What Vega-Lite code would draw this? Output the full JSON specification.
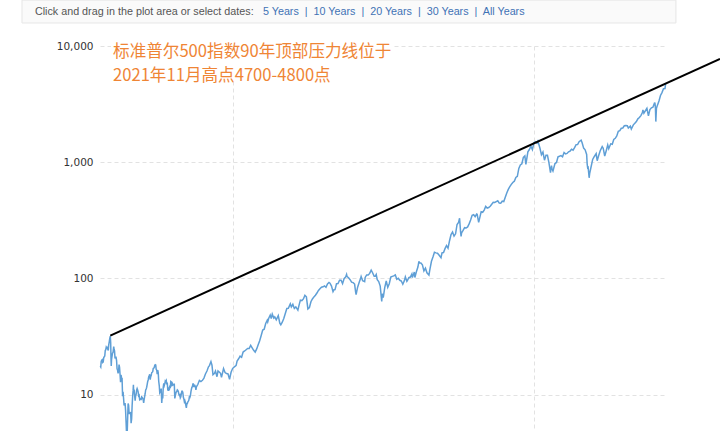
{
  "$schema": "https://vega.github.io/schema/vega-lite/v6.json",
  "autosize": {"type": "none"},
  "padding": {"left": 100, "top": 46, "right": 54, "bottom": 0},
  "width": 566,
  "height": 395,
  "background": "white",
  "config": {"view": {"stroke": null}},
  "datasets": {
    "spx": [
      {"d":"1928-01-15","v":17.6},{"d":"1928-02-15","v":17.3},{"d":"1928-03-15","v":19.3},{"d":"1928-04-15","v":19.8},{"d":"1928-05-15","v":20.0},{"d":"1928-06-15","v":19.0},{"d":"1928-07-15","v":19.2},{"d":"1928-08-15","v":20.9},{"d":"1928-09-15","v":21.2},{"d":"1928-10-15","v":21.5},{"d":"1928-11-15","v":24.0},{"d":"1928-12-15","v":24.4},
      {"d":"1929-01-15","v":25.7},{"d":"1929-02-15","v":25.3},{"d":"1929-03-15","v":25.0},{"d":"1929-04-15","v":25.5},{"d":"1929-05-15","v":24.0},{"d":"1929-06-15","v":27.0},{"d":"1929-07-15","v":28.5},{"d":"1929-08-15","v":30.5},{"d":"1929-09-16","v":31.9},{"d":"1929-10-10","v":28.0},{"d":"1929-10-29","v":20.4},{"d":"1929-11-13","v":17.7},{"d":"1929-11-30","v":20.0},{"d":"1929-12-31","v":21.5},
      {"d":"1930-01-31","v":22.8},{"d":"1930-02-28","v":23.1},{"d":"1930-03-31","v":25.1},{"d":"1930-04-10","v":25.9},{"d":"1930-04-30","v":25.0},{"d":"1930-05-31","v":23.9},{"d":"1930-06-30","v":20.5},{"d":"1930-07-31","v":21.0},{"d":"1930-08-31","v":21.0},{"d":"1930-09-30","v":19.8},{"d":"1930-10-31","v":16.7},{"d":"1930-11-30","v":16.3},{"d":"1930-12-31","v":15.3},
      {"d":"1931-01-31","v":15.9},{"d":"1931-02-28","v":18.2},{"d":"1931-03-31","v":17.2},{"d":"1931-04-30","v":15.0},{"d":"1931-05-31","v":12.8},{"d":"1931-06-30","v":14.8},{"d":"1931-07-31","v":13.9},{"d":"1931-08-31","v":13.8},{"d":"1931-09-30","v":9.7},{"d":"1931-10-31","v":10.6},{"d":"1931-11-30","v":9.3},{"d":"1931-12-31","v":8.1},
      {"d":"1932-01-31","v":8.3},{"d":"1932-02-28","v":8.5},{"d":"1932-03-31","v":7.3},{"d":"1932-04-30","v":5.8},{"d":"1932-05-31","v":4.5},{"d":"1932-06-30","v":4.4},{"d":"1932-07-31","v":6.1},{"d":"1932-08-31","v":8.4},{"d":"1932-09-30","v":8.1},{"d":"1932-10-31","v":6.9},{"d":"1932-11-30","v":6.9},{"d":"1932-12-31","v":6.9},
      {"d":"1933-01-31","v":7.1},{"d":"1933-02-28","v":5.7},{"d":"1933-03-31","v":6.2},{"d":"1933-04-30","v":8.0},{"d":"1933-05-31","v":9.6},{"d":"1933-06-30","v":10.9},{"d":"1933-07-18","v":12.2},{"d":"1933-07-31","v":10.8},{"d":"1933-08-31","v":11.1},{"d":"1933-09-30","v":9.8},{"d":"1933-10-31","v":8.9},{"d":"1933-11-30","v":9.8},{"d":"1933-12-31","v":10.1},
      {"d":"1934-01-31","v":11.0},{"d":"1934-02-28","v":11.3},{"d":"1934-03-31","v":11.0},{"d":"1934-04-30","v":10.6},{"d":"1934-05-31","v":9.8},{"d":"1934-06-30","v":9.9},{"d":"1934-07-31","v":9.1},{"d":"1934-08-31","v":9.2},{"d":"1934-09-30","v":9.1},{"d":"1934-10-31","v":9.1},{"d":"1934-11-30","v":9.6},{"d":"1934-12-31","v":9.5},
      {"d":"1935-01-31","v":9.3},{"d":"1935-02-28","v":9.1},{"d":"1935-03-31","v":8.5},{"d":"1935-04-30","v":9.1},{"d":"1935-05-31","v":9.7},{"d":"1935-06-30","v":10.2},{"d":"1935-07-31","v":11.0},{"d":"1935-08-31","v":11.2},{"d":"1935-09-30","v":11.6},{"d":"1935-10-31","v":12.3},{"d":"1935-11-30","v":13.0},{"d":"1935-12-31","v":13.4},
      {"d":"1936-01-31","v":14.3},{"d":"1936-02-28","v":14.5},{"d":"1936-03-31","v":15.0},{"d":"1936-04-30","v":13.5},{"d":"1936-05-31","v":14.3},{"d":"1936-06-30","v":14.6},{"d":"1936-07-31","v":15.5},{"d":"1936-08-31","v":15.6},{"d":"1936-09-30","v":15.8},{"d":"1936-10-31","v":16.8},{"d":"1936-11-30","v":16.9},{"d":"1936-12-31","v":17.2},
      {"d":"1937-01-31","v":17.9},{"d":"1937-02-28","v":18.1},{"d":"1937-03-31","v":18.0},{"d":"1937-04-30","v":16.5},{"d":"1937-05-31","v":16.3},{"d":"1937-06-30","v":15.0},{"d":"1937-07-31","v":16.3},{"d":"1937-08-31","v":15.4},{"d":"1937-09-30","v":13.0},{"d":"1937-10-31","v":12.0},{"d":"1937-11-30","v":10.4},{"d":"1937-12-31","v":10.6},
      {"d":"1938-01-31","v":10.9},{"d":"1938-02-28","v":11.3},{"d":"1938-03-31","v":8.5},{"d":"1938-04-30","v":9.7},{"d":"1938-05-31","v":9.3},{"d":"1938-06-30","v":11.6},{"d":"1938-07-31","v":12.5},{"d":"1938-08-31","v":12.0},{"d":"1938-09-30","v":12.4},{"d":"1938-10-31","v":13.1},{"d":"1938-11-30","v":12.9},{"d":"1938-12-31","v":13.2},
      {"d":"1939-01-31","v":12.3},{"d":"1939-02-28","v":12.7},{"d":"1939-03-31","v":11.1},{"d":"1939-04-30","v":10.8},{"d":"1939-05-31","v":11.6},{"d":"1939-06-30","v":10.9},{"d":"1939-07-31","v":12.0},{"d":"1939-08-31","v":11.4},{"d":"1939-09-30","v":13.0},{"d":"1939-10-31","v":12.9},{"d":"1939-11-30","v":12.2},{"d":"1939-12-31","v":12.5},
      {"d":"1940-01-31","v":12.1},{"d":"1940-02-28","v":12.2},{"d":"1940-03-31","v":12.3},{"d":"1940-04-30","v":12.3},{"d":"1940-05-31","v":9.3},{"d":"1940-06-30","v":9.8},{"d":"1940-07-31","v":10.3},{"d":"1940-08-31","v":10.6},{"d":"1940-09-30","v":10.7},{"d":"1940-10-31","v":11.0},{"d":"1940-11-30","v":10.9},{"d":"1940-12-31","v":10.6},
      {"d":"1941-01-31","v":10.1},{"d":"1941-02-28","v":9.9},{"d":"1941-03-31","v":10.0},{"d":"1941-04-30","v":9.4},{"d":"1941-05-31","v":9.6},{"d":"1941-06-30","v":10.2},{"d":"1941-07-31","v":10.7},{"d":"1941-08-31","v":10.7},{"d":"1941-09-30","v":10.4},{"d":"1941-10-31","v":9.5},{"d":"1941-11-30","v":9.2},{"d":"1941-12-31","v":8.7},
      {"d":"1942-01-31","v":8.9},{"d":"1942-02-28","v":8.6},{"d":"1942-03-31","v":8.1},{"d":"1942-04-30","v":7.7},{"d":"1942-05-31","v":8.4},{"d":"1942-06-30","v":8.4},{"d":"1942-07-31","v":8.7},{"d":"1942-08-31","v":8.8},{"d":"1942-09-30","v":9.0},{"d":"1942-10-31","v":9.6},{"d":"1942-11-30","v":9.5},{"d":"1942-12-31","v":9.8},
      {"d":"1943-01-31","v":10.6},{"d":"1943-02-28","v":11.1},{"d":"1943-03-31","v":11.6},{"d":"1943-04-30","v":11.7},{"d":"1943-05-31","v":12.4},{"d":"1943-06-30","v":12.4},{"d":"1943-07-31","v":11.8},{"d":"1943-08-31","v":11.8},{"d":"1943-09-30","v":12.0},{"d":"1943-10-31","v":11.8},{"d":"1943-11-30","v":11.0},{"d":"1943-12-31","v":11.7},
      {"d":"1944-03-31","v":12.3},{"d":"1944-06-30","v":13.3},{"d":"1944-09-30","v":13.0},{"d":"1944-12-31","v":13.3},
      {"d":"1945-03-31","v":13.9},{"d":"1945-06-30","v":15.1},{"d":"1945-09-30","v":16.0},{"d":"1945-12-31","v":17.4},
      {"d":"1946-02-28","v":17.8},{"d":"1946-05-31","v":19.3},{"d":"1946-07-31","v":18.0},{"d":"1946-09-30","v":14.9},{"d":"1946-12-31","v":15.3},
      {"d":"1947-02-28","v":16.0},{"d":"1947-05-31","v":14.3},{"d":"1947-07-31","v":16.0},{"d":"1947-10-31","v":15.6},{"d":"1947-12-31","v":15.3},
      {"d":"1948-02-28","v":14.1},{"d":"1948-06-30","v":16.8},{"d":"1948-09-30","v":15.5},{"d":"1948-12-31","v":15.2},
      {"d":"1949-03-31","v":15.1},{"d":"1949-06-30","v":13.6},{"d":"1949-09-30","v":15.6},{"d":"1949-12-31","v":16.8},
      {"d":"1950-03-31","v":17.3},{"d":"1950-06-30","v":17.7},{"d":"1950-07-31","v":17.8},{"d":"1950-09-30","v":19.5},{"d":"1950-12-31","v":20.4},
      {"d":"1951-03-31","v":21.5},{"d":"1951-06-30","v":21.0},{"d":"1951-09-30","v":23.3},{"d":"1951-12-31","v":23.8},
      {"d":"1952-03-31","v":24.4},{"d":"1952-06-30","v":25.0},{"d":"1952-09-30","v":25.0},{"d":"1952-12-31","v":26.6},
      {"d":"1953-03-31","v":25.3},{"d":"1953-06-30","v":24.1},{"d":"1953-09-30","v":23.3},{"d":"1953-12-31","v":24.8},
      {"d":"1954-03-31","v":26.9},{"d":"1954-06-30","v":29.2},{"d":"1954-09-30","v":32.3},{"d":"1954-12-31","v":36.0},
      {"d":"1955-03-31","v":36.6},{"d":"1955-06-30","v":41.0},{"d":"1955-09-30","v":43.7},{"d":"1955-10-31","v":42.3},{"d":"1955-12-31","v":45.5},
      {"d":"1956-03-31","v":48.5},{"d":"1956-05-31","v":45.2},{"d":"1956-07-31","v":49.4},{"d":"1956-10-31","v":45.6},{"d":"1956-12-31","v":46.7},
      {"d":"1957-03-31","v":44.1},{"d":"1957-07-31","v":47.9},{"d":"1957-10-31","v":41.2},{"d":"1957-12-31","v":40.0},
      {"d":"1958-03-31","v":42.1},{"d":"1958-06-30","v":45.2},{"d":"1958-09-30","v":50.0},{"d":"1958-12-31","v":55.2},
      {"d":"1959-03-31","v":55.4},{"d":"1959-07-31","v":60.5},{"d":"1959-09-30","v":56.9},{"d":"1959-12-31","v":59.9},
      {"d":"1960-03-31","v":55.3},{"d":"1960-06-30","v":56.9},{"d":"1960-10-31","v":53.4},{"d":"1960-12-31","v":58.1},
      {"d":"1961-03-31","v":65.1},{"d":"1961-06-30","v":64.6},{"d":"1961-09-30","v":66.7},{"d":"1961-12-31","v":71.6},
      {"d":"1962-03-31","v":69.6},{"d":"1962-06-30","v":54.8},{"d":"1962-09-30","v":56.3},{"d":"1962-12-31","v":63.1},
      {"d":"1963-03-31","v":66.6},{"d":"1963-06-30","v":69.4},{"d":"1963-09-30","v":71.7},{"d":"1963-12-31","v":75.0},
      {"d":"1964-03-31","v":78.9},{"d":"1964-06-30","v":81.7},{"d":"1964-09-30","v":84.2},{"d":"1964-12-31","v":84.8},
      {"d":"1965-03-31","v":86.2},{"d":"1965-06-30","v":84.1},{"d":"1965-09-30","v":89.9},{"d":"1965-12-31","v":92.4},
      {"d":"1966-02-28","v":91.2},{"d":"1966-05-31","v":86.1},{"d":"1966-08-31","v":77.1},{"d":"1966-10-31","v":80.2},{"d":"1966-12-31","v":80.3},
      {"d":"1967-03-31","v":90.2},{"d":"1967-06-30","v":90.6},{"d":"1967-09-30","v":96.7},{"d":"1967-12-31","v":96.5},
      {"d":"1968-03-31","v":90.2},{"d":"1968-06-30","v":99.6},{"d":"1968-09-30","v":102.7},{"d":"1968-11-30","v":108.4},{"d":"1968-12-31","v":103.9},
      {"d":"1969-03-31","v":101.5},{"d":"1969-06-30","v":97.7},{"d":"1969-09-30","v":93.1},{"d":"1969-12-31","v":92.1},
      {"d":"1970-03-31","v":89.6},{"d":"1970-05-31","v":76.6},{"d":"1970-06-30","v":72.7},{"d":"1970-09-30","v":84.2},{"d":"1970-12-31","v":92.2},
      {"d":"1971-03-31","v":100.3},{"d":"1971-04-30","v":103.9},{"d":"1971-07-31","v":95.6},{"d":"1971-11-30","v":93.9},{"d":"1971-12-31","v":102.1},
      {"d":"1972-03-31","v":107.2},{"d":"1972-06-30","v":107.1},{"d":"1972-09-30","v":110.6},{"d":"1972-12-31","v":118.1},
      {"d":"1973-01-31","v":116.0},{"d":"1973-03-31","v":111.5},{"d":"1973-06-30","v":104.3},{"d":"1973-08-31","v":104.3},{"d":"1973-10-31","v":108.3},{"d":"1973-12-31","v":97.6},
      {"d":"1974-03-31","v":94.0},{"d":"1974-06-30","v":86.0},{"d":"1974-09-30","v":63.5},{"d":"1974-10-31","v":73.9},{"d":"1974-12-31","v":68.6},
      {"d":"1975-03-31","v":83.4},{"d":"1975-06-30","v":95.2},{"d":"1975-09-30","v":83.9},{"d":"1975-12-31","v":90.2},
      {"d":"1976-03-31","v":102.8},{"d":"1976-06-30","v":104.3},{"d":"1976-09-30","v":105.2},{"d":"1976-12-31","v":107.5},
      {"d":"1977-03-31","v":98.4},{"d":"1977-06-30","v":100.5},{"d":"1977-09-30","v":96.5},{"d":"1977-12-31","v":95.1},
      {"d":"1978-03-31","v":89.2},{"d":"1978-06-30","v":95.5},{"d":"1978-08-31","v":103.3},{"d":"1978-11-30","v":94.7},{"d":"1978-12-31","v":96.1},
      {"d":"1979-03-31","v":101.6},{"d":"1979-06-30","v":102.9},{"d":"1979-09-30","v":109.3},{"d":"1979-10-31","v":101.8},{"d":"1979-12-31","v":107.9},
      {"d":"1980-02-28","v":113.7},{"d":"1980-03-31","v":102.1},{"d":"1980-06-30","v":114.2},{"d":"1980-09-30","v":125.5},{"d":"1980-11-30","v":140.5},{"d":"1980-12-31","v":135.8},
      {"d":"1981-03-31","v":136.0},{"d":"1981-06-30","v":131.2},{"d":"1981-09-30","v":116.2},{"d":"1981-12-31","v":122.6},
      {"d":"1982-03-31","v":112.0},{"d":"1982-07-31","v":107.1},{"d":"1982-09-30","v":120.4},{"d":"1982-12-31","v":140.6},
      {"d":"1983-03-31","v":153.0},{"d":"1983-06-30","v":168.1},{"d":"1983-09-30","v":166.1},{"d":"1983-12-31","v":164.9},
      {"d":"1984-03-31","v":159.2},{"d":"1984-07-31","v":150.7},{"d":"1984-09-30","v":166.1},{"d":"1984-12-31","v":167.2},
      {"d":"1985-03-31","v":180.7},{"d":"1985-06-30","v":191.9},{"d":"1985-09-30","v":182.1},{"d":"1985-12-31","v":211.3},
      {"d":"1986-03-31","v":238.9},{"d":"1986-06-30","v":250.8},{"d":"1986-09-30","v":231.3},{"d":"1986-12-31","v":242.2},
      {"d":"1987-03-31","v":291.7},{"d":"1987-06-30","v":304.0},{"d":"1987-08-31","v":329.8},{"d":"1987-10-31","v":251.8},{"d":"1987-11-30","v":230.3},{"d":"1987-12-31","v":247.1},
      {"d":"1988-03-31","v":258.9},{"d":"1988-06-30","v":273.5},{"d":"1988-09-30","v":271.9},{"d":"1988-12-31","v":277.7},
      {"d":"1989-03-31","v":294.9},{"d":"1989-06-30","v":318.0},{"d":"1989-09-30","v":349.2},{"d":"1989-12-31","v":353.4},
      {"d":"1990-03-31","v":339.9},{"d":"1990-06-30","v":358.0},{"d":"1990-07-31","v":356.2},{"d":"1990-10-31","v":304.0},{"d":"1990-12-31","v":330.2},
      {"d":"1991-03-31","v":375.2},{"d":"1991-06-30","v":371.2},{"d":"1991-09-30","v":387.9},{"d":"1991-12-31","v":417.1},
      {"d":"1992-03-31","v":403.7},{"d":"1992-06-30","v":408.1},{"d":"1992-09-30","v":417.8},{"d":"1992-12-31","v":435.7},
      {"d":"1993-03-31","v":451.7},{"d":"1993-06-30","v":450.5},{"d":"1993-09-30","v":458.9},{"d":"1993-12-31","v":466.5},
      {"d":"1994-03-31","v":445.8},{"d":"1994-06-30","v":444.3},{"d":"1994-09-30","v":462.7},{"d":"1994-12-31","v":459.3},
      {"d":"1995-03-31","v":500.7},{"d":"1995-06-30","v":544.8},{"d":"1995-09-30","v":584.4},{"d":"1995-12-31","v":615.9},
      {"d":"1996-03-31","v":645.5},{"d":"1996-06-30","v":670.6},{"d":"1996-09-30","v":687.3},{"d":"1996-12-31","v":740.7},
      {"d":"1997-03-31","v":757.1},{"d":"1997-06-30","v":885.1},{"d":"1997-09-30","v":947.3},{"d":"1997-12-31","v":970.4},
      {"d":"1998-03-31","v":1101.8},{"d":"1998-06-30","v":1133.8},{"d":"1998-08-31","v":957.3},{"d":"1998-12-31","v":1229.2},
      {"d":"1999-03-31","v":1286.4},{"d":"1999-06-30","v":1372.7},{"d":"1999-09-30","v":1282.7},{"d":"1999-12-31","v":1469.3},
      {"d":"2000-03-31","v":1498.6},{"d":"2000-06-30","v":1454.6},{"d":"2000-08-31","v":1517.7},{"d":"2000-12-31","v":1320.3},
      {"d":"2001-03-31","v":1160.3},{"d":"2001-06-30","v":1224.4},{"d":"2001-09-30","v":1040.9},{"d":"2001-12-31","v":1148.1},
      {"d":"2002-03-31","v":1147.4},{"d":"2002-06-30","v":989.8},{"d":"2002-09-30","v":815.3},{"d":"2002-11-30","v":936.3},{"d":"2002-12-31","v":879.8},
      {"d":"2003-02-28","v":841.2},{"d":"2003-06-30","v":974.5},{"d":"2003-09-30","v":996.0},{"d":"2003-12-31","v":1111.9},
      {"d":"2004-03-31","v":1126.2},{"d":"2004-06-30","v":1140.8},{"d":"2004-09-30","v":1114.6},{"d":"2004-12-31","v":1211.9},
      {"d":"2005-03-31","v":1180.6},{"d":"2005-06-30","v":1191.3},{"d":"2005-09-30","v":1228.8},{"d":"2005-12-31","v":1248.3},
      {"d":"2006-03-31","v":1294.8},{"d":"2006-06-30","v":1270.2},{"d":"2006-09-30","v":1335.9},{"d":"2006-12-31","v":1418.3},
      {"d":"2007-03-31","v":1420.9},{"d":"2007-06-30","v":1503.4},{"d":"2007-10-31","v":1549.4},{"d":"2007-12-31","v":1468.4},
      {"d":"2008-03-31","v":1322.7},{"d":"2008-06-30","v":1280.0},{"d":"2008-09-30","v":1166.4},{"d":"2008-10-31","v":968.8},{"d":"2008-11-30","v":896.2},{"d":"2008-12-31","v":903.3},
      {"d":"2009-02-28","v":735.1},{"d":"2009-03-31","v":797.9},{"d":"2009-06-30","v":919.3},{"d":"2009-09-30","v":1057.1},{"d":"2009-12-31","v":1115.1},
      {"d":"2010-04-30","v":1186.7},{"d":"2010-06-30","v":1030.7},{"d":"2010-09-30","v":1141.2},{"d":"2010-12-31","v":1257.6},
      {"d":"2011-04-30","v":1363.6},{"d":"2011-06-30","v":1320.6},{"d":"2011-09-30","v":1131.4},{"d":"2011-12-31","v":1257.6},
      {"d":"2012-03-31","v":1408.5},{"d":"2012-05-31","v":1310.3},{"d":"2012-09-30","v":1440.7},{"d":"2012-12-31","v":1426.2},
      {"d":"2013-03-31","v":1569.2},{"d":"2013-06-30","v":1606.3},{"d":"2013-09-30","v":1681.6},{"d":"2013-12-31","v":1848.4},
      {"d":"2014-03-31","v":1872.3},{"d":"2014-06-30","v":1960.2},{"d":"2014-09-30","v":1972.3},{"d":"2014-12-31","v":2058.9},
      {"d":"2015-03-31","v":2067.9},{"d":"2015-06-30","v":2063.1},{"d":"2015-08-31","v":1972.2},{"d":"2015-12-31","v":2043.9},
      {"d":"2016-02-28","v":1932.2},{"d":"2016-06-30","v":2098.9},{"d":"2016-09-30","v":2168.3},{"d":"2016-12-31","v":2238.8},
      {"d":"2017-03-31","v":2362.7},{"d":"2017-06-30","v":2423.4},{"d":"2017-09-30","v":2519.4},{"d":"2017-12-31","v":2673.6},
      {"d":"2018-01-31","v":2823.8},{"d":"2018-03-31","v":2640.9},{"d":"2018-09-30","v":2914.0},{"d":"2018-12-31","v":2506.9},
      {"d":"2019-03-31","v":2834.4},{"d":"2019-06-30","v":2941.8},{"d":"2019-09-30","v":2976.7},{"d":"2019-12-31","v":3230.8},
      {"d":"2020-01-31","v":3225.5},{"d":"2020-02-28","v":2954.2},{"d":"2020-03-23","v":2237.4},{"d":"2020-04-30","v":2912.4},{"d":"2020-06-30","v":3100.3},{"d":"2020-09-30","v":3363.0},{"d":"2020-12-31","v":3756.1},
      {"d":"2021-03-31","v":3972.9},{"d":"2021-06-30","v":4297.5},{"d":"2021-09-30","v":4307.5},{"d":"2021-11-05","v":4697.0}
    ],
    "trend": [
      {"d":"1929-09-16","v":32.3},
      {"d":"2030-11-15","v":7730}
    ]
  },
  "layer": [
    {
      "data": {"name": "spx"},
      "mark": {"type": "line", "color": "#5f9fd6", "strokeWidth": 1.5, "clip": false},
      "encoding": {
        "x": {
          "field": "d", "type": "temporal",
          "scale": {"domain": [{"year": 1928, "month": 1, "date": 1}, {"year": 2021, "month": 11, "date": 30}], "nice": false},
          "axis": {"values": [{"year": 1950, "month": 1, "date": 1}, {"year": 2000, "month": 1, "date": 1}], "labels": false, "ticks": false, "domain": false, "title": null, "grid": true, "gridDash": [4, 3], "gridColor": "#e2e2e2", "gridWidth": 1}
        },
        "y": {
          "field": "v", "type": "quantitative",
          "scale": {"type": "log", "domain": [4, 10000], "nice": false},
          "axis": {"values": [10, 100, 1000, 10000], "format": ",", "labelFont": "DejaVu Sans", "labelFontSize": 10.5, "labelColor": "#333333", "labelPadding": 7, "ticks": false, "domain": false, "title": null, "grid": true, "gridDash": [4, 3], "gridColor": "#e2e2e2", "gridWidth": 1}
        }
      }
    },
    {
      "data": {"name": "trend"},
      "mark": {"type": "line", "color": "#000000", "strokeWidth": 2, "clip": false},
      "encoding": {
        "x": {"field": "d", "type": "temporal", "title": null},
        "y": {"field": "v", "type": "quantitative", "title": null}
      }
    },
    {
      "data": {"values": [{}]},
      "mark": {"type": "rect", "fill": "#fafafa", "stroke": "#e6e6e6", "strokeWidth": 1, "clip": false},
      "encoding": {
        "x": {"datum": {"year": 1915, "month": 1, "date": 20}, "type": "temporal"},
        "x2": {"datum": {"year": 2023, "month": 7, "date": 25}},
        "y": {"datum": 24830, "type": "quantitative"},
        "y2": {"datum": 15780}
      }
    },
    {
      "data": {"values": [{}]},
      "mark": {"type": "text", "text": "Click and drag in the plot area or select dates:", "align": "left", "baseline": "middle", "font": "Liberation Sans", "fontSize": 10.75, "color": "#555555", "clip": false},
      "encoding": {
        "x": {"datum": {"year": 1917, "month": 3, "date": 15}, "type": "temporal"},
        "y": {"datum": 19590, "type": "quantitative"}
      }
    },
    {
      "data": {"values": [{}]},
      "mark": {"type": "text", "text": "5 Years \u00a0|\u00a0 10 Years \u00a0|\u00a0 20 Years \u00a0|\u00a0 30 Years \u00a0|\u00a0 All Years", "align": "left", "baseline": "middle", "font": "Liberation Sans", "fontSize": 10.75, "color": "#3f72b5", "clip": false},
      "encoding": {
        "x": {"datum": {"year": 1955, "month": 1, "date": 15}, "type": "temporal"},
        "y": {"datum": 19590, "type": "quantitative"}
      }
    },
    {
      "data": {"values": [{}]},
      "mark": {"type": "rect", "fill": "white", "clip": false},
      "encoding": {
        "x": {"datum": {"year": 1929, "month": 10, "date": 30}, "type": "temporal"},
        "x2": {"datum": {"year": 1976, "month": 6, "date": 15}},
        "y": {"datum": 11260, "type": "quantitative"},
        "y2": {"datum": 4902}
      }
    },
    {
      "data": {"values": [{}]},
      "mark": {"type": "text", "text": ["标准普尔500指数90年顶部压力线位于", "2021年11月高点4700-4800点"], "align": "left", "baseline": "top", "font": "Noto Sans CJK SC", "fontSize": 16.6, "lineHeight": 24, "color": "#ef8535", "clip": false},
      "encoding": {
        "x": {"datum": {"year": 1930, "month": 3, "date": 1}, "type": "temporal"},
        "y": {"datum": 10400, "type": "quantitative"}
      }
    }
  ]
}
